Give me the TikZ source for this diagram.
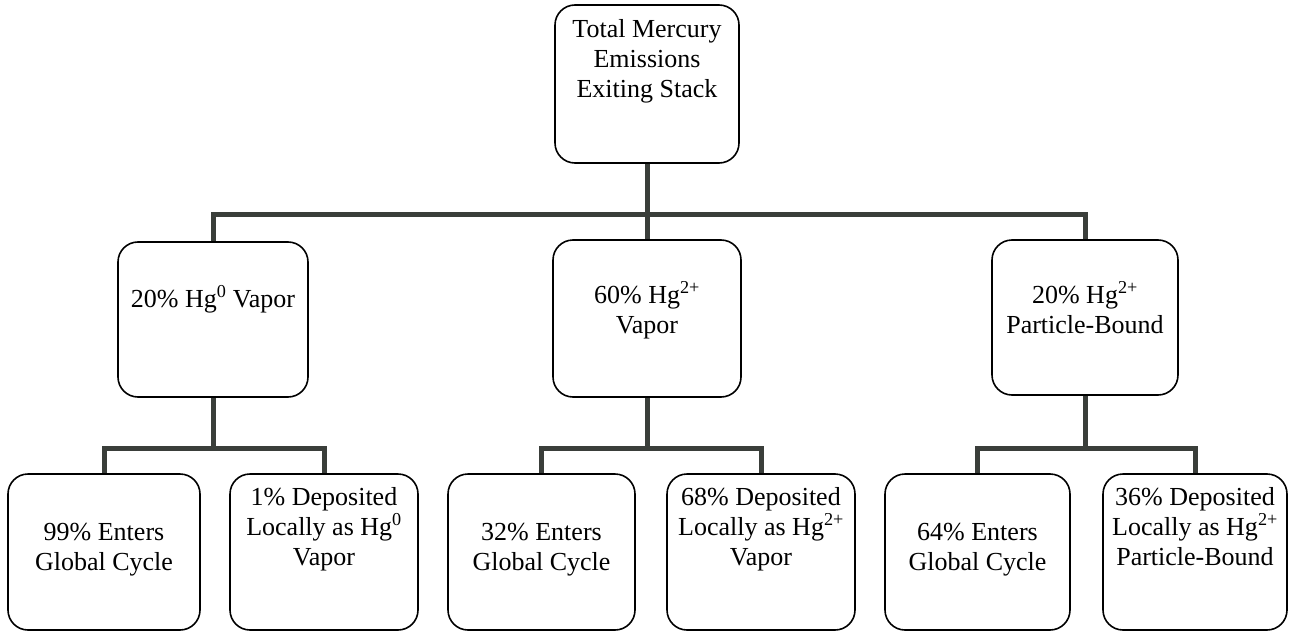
\documentclass[tikz,border=0pt]{standalone}
\usepackage{fontspec}
\setmainfont{Liberation Serif}
\definecolor{connc}{RGB}{58,62,58}
\newcommand{\bt}[4]{\parbox[c][#3pt][t]{#2pt}{\centering\fontsize{26}{30}\selectfont\vspace*{#1pt}\rule{0pt}{22pt}#4\par}}
\tikzset{
  hgbox/.style={draw=black, line width=1.6pt, rounded corners=20pt, inner sep=0pt, fill=white},
  conn/.style={draw=connc, line width=5pt, line join=miter}
}
\begin{document}
\begin{tikzpicture}[x=1pt,y=1pt]
\useasboundingbox (0,0) rectangle (1289,-631);
% nodes
\node[hgbox] (T) at (647,-84) {\bt{11}{184}{158}{Total Mercury\\Emissions\\Exiting Stack}};
\node[hgbox] (A) at (213,-319.5) {\bt{43}{190}{155}{20\% Hg\textsuperscript{0} Vapor}};
\node[hgbox] (B) at (647,-318.5) {\bt{41}{188}{157}{60\% Hg\textsuperscript{2+}\\Vapor}};
\node[hgbox] (C) at (1085,-317.5) {\bt{41}{186}{155}{20\% Hg\textsuperscript{2+}\\Particle-Bound}};
\node[hgbox] (A1) at (104,-552) {\bt{44}{192}{156}{99\% Enters\\Global Cycle}};
\node[hgbox] (A2) at (324,-552) {\bt{9}{188}{156}{1\% Deposited\\Locally as Hg\textsuperscript{0}\\Vapor}};
\node[hgbox] (B1) at (541.5,-552) {\bt{44}{187}{156}{32\% Enters\\Global Cycle}};
\node[hgbox] (B2) at (761,-552) {\bt{9}{188}{156}{68\% Deposited\\Locally as Hg\textsuperscript{2+}\\Vapor}};
\node[hgbox] (C1) at (977.5,-552) {\bt{44}{185}{156}{64\% Enters\\Global Cycle}};
\node[hgbox] (C2) at (1195,-552) {\bt{9}{184}{156}{36\% Deposited\\Locally as Hg\textsuperscript{2+}\\Particle-Bound}};
% junctions
\coordinate (jT) at (T.south |- 0,-214);
\coordinate (jA) at (A.south |- 0,-448);
\coordinate (jB) at (B.south |- 0,-448);
\coordinate (jC) at (C.south |- 0,-448);
% connectors
\draw[conn] (T.south) -- (jT);
\draw[conn] (A.north) |- (jT) -| (C.north);
\draw[conn] (jT) -- (B.north);
\draw[conn] (A.south) -- (jA);
\draw[conn] (A1.north) |- (jA) -| (A2.north);
\draw[conn] (B.south) -- (jB);
\draw[conn] (B1.north) |- (jB) -| (B2.north);
\draw[conn] (C.south) -- (jC);
\draw[conn] (C1.north) |- (jC) -| (C2.north);
\end{tikzpicture}
\end{document}
